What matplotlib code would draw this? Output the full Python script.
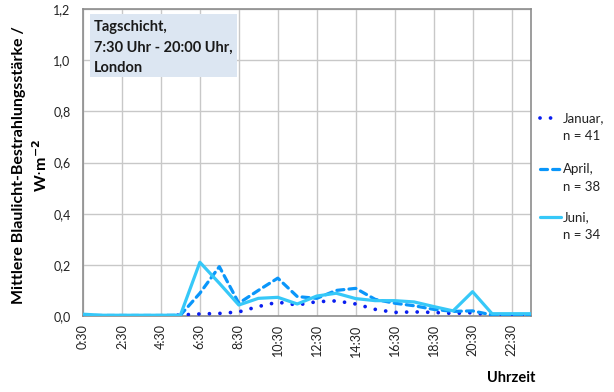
import matplotlib
matplotlib.use("Agg")
import matplotlib.pyplot as plt
from matplotlib.lines import Line2D
from matplotlib.patches import Rectangle

plt.rcParams['font.family'] = ['Lato', 'DejaVu Sans']

# Hourly categories (half past each hour)
hours = [f"{h}:30" for h in range(24)]

# Mean blue-light irradiance in W·m^-2
januar = [0.0, 0.0, 0.0, 0.0, 0.0, 0.004, 0.008, 0.010, 0.016, 0.037, 0.054, 0.043,
          0.056, 0.059, 0.047, 0.026, 0.014, 0.016, 0.014, 0.010, 0.013, 0.003, 0.002, 0.002]
april = [0.002, 0.002, 0.002, 0.002, 0.002, 0.003, 0.089, 0.193, 0.050, 0.100, 0.148, 0.076,
         0.069, 0.100, 0.108, 0.065, 0.050, 0.040, 0.026, 0.018, 0.020, 0.004, 0.003, 0.003]
juni = [0.007, 0.003, 0.003, 0.003, 0.003, 0.003, 0.210, 0.128, 0.043, 0.069, 0.073, 0.047,
        0.078, 0.089, 0.068, 0.060, 0.060, 0.055, 0.037, 0.020, 0.095, 0.009, 0.009, 0.009]

series_labels = ["Januar,", "April,", "Juni,"]
series_n = ["n = 41", "n = 38", "n = 34"]
yticks = [0.0, 0.2, 0.4, 0.6, 0.8, 1.0, 1.2]

c_jan = "#0A1EF0"
c_apr = "#0A96FA"
c_jun = "#36C8F8"

W, H = 614, 392
fig = plt.figure(figsize=(W / 100, H / 100), dpi=100)
ax = fig.add_axes([83 / W, 1 - 316 / H, 448 / W, 307 / H])

x = list(range(len(hours)))
styles = [
    dict(color=c_jan, lw=2.7, linestyle=(0, (0.01, 2.8)), dash_capstyle='round'),
    dict(color=c_apr, lw=2.3, linestyle=(0, (2.2, 1.6)), dash_capstyle='round'),
    dict(color=c_jun, lw=2.3, linestyle='-', solid_capstyle='round'),
]
for vals, st in zip([januar, april, juni], styles):
    ax.plot(x, vals, **st, zorder=3)

ax.set_xlim(0, 23)
ax.set_ylim(0, 1.2)
ax.set_yticks(yticks)
ax.set_yticklabels([f"{v:.1f}".replace('.', ',') for v in yticks], fontsize=9, color='#222222')
ax.set_xticks(x[::2])
ax.set_xticklabels(hours[::2], rotation=90, fontsize=9, color='#222222')
ax.tick_params(axis='both', length=0)
ax.tick_params(axis='y', pad=9)
ax.tick_params(axis='x', pad=6)
ax.grid(True, color='#C8C8C8', lw=1.0)
ax.set_axisbelow(True)
for s in ax.spines.values():
    s.set_color('#8C8C8C')
    s.set_linewidth(1.2)

fig.text(19 / W, 1 - 165 / H, "Mittlere Blaulicht-Bestrahlungsstärke /",
         rotation=90, ha='center', va='center', fontsize=11.5, fontweight='bold')
fig.text(41 / W, 1 - 165 / H, r"W$\cdot$m$^{\mathbf{-2}}$",
         rotation=90, ha='center', va='center', fontsize=11.5, fontweight='bold')
fig.text(511 / W, 1 - 378 / H, "Uhrzeit", ha='center', va='center',
         fontsize=10.5, fontweight='bold')

# Annotation box in the upper left corner of the plot
ax.add_patch(Rectangle(((90 - 83) / 448, 1 - (77 - 9) / 307), 147 / 448, 63 / 307,
                       transform=ax.transAxes, fc='#DCE6F2', ec='none', zorder=5))
for i, line in enumerate(["Tagschicht,", "7:30 Uhr - 20:00 Uhr,", "London"]):
    ax.text((94 - 83) / 448, 1 - (27 + 20.5 * i - 9) / 307, line, transform=ax.transAxes,
            ha='left', va='center', fontsize=10.5, fontweight='bold', color='#1A1A1A',
            zorder=6)

# Legend entries: sample line aligned with the first text line
legend_y = [118, 169, 217]
for st, lab, n, yy in zip(styles, series_labels, series_n, legend_y):
    fy = 1 - yy / H
    fig.add_artist(Line2D([540 / W, 561 / W], [fy, fy], **st))
    fig.text(563 / W, fy, lab, ha='left', va='center', fontsize=9.5, color='#222222')
    fig.text(563 / W, fy - 18 / H, n, ha='left', va='center', fontsize=9.5, color='#222222')

fig.savefig("out.png", dpi=100)
